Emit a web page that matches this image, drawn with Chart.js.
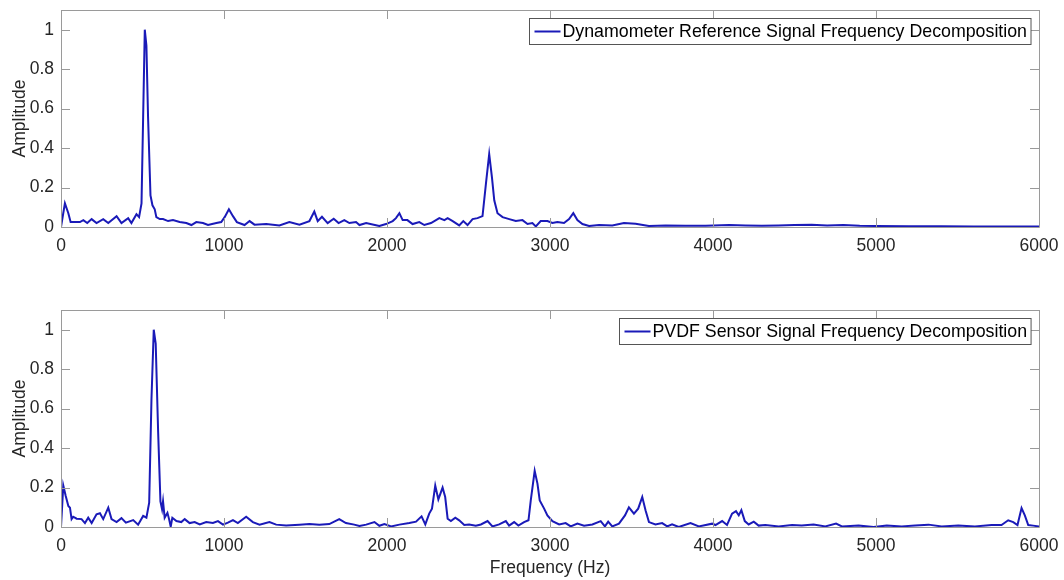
<!DOCTYPE html>
<html>
<head>
<meta charset="utf-8">
<script src="https://cdn.jsdelivr.net/npm/chart.js"></script>
<style>
  html, body { margin: 0; padding: 0; background: #fff; overflow: hidden; }
  #wrap { position: relative; width: 1064px; height: 580px; }
  .plot { position: absolute; left: 0; width: 1064px; }
</style>
</head>
<body>
<div id="wrap">
  <div class="plot" style="top:0;height:290px"><canvas id="topChart"></canvas></div>
  <div class="plot" style="top:300px;height:280px"><canvas id="bottomChart"></canvas></div>
</div>
<script>
// tick values shared by both subplots
const freqTicks = [0, 1000, 2000, 3000, 4000, 5000, 6000];
const ampTicks = [0, 0.2, 0.4, 0.6, 0.8, 1];

// top subplot: dynamometer spectrum (Hz, normalised amplitude)
const dynoFreq = [0, 24, 45, 59, 116, 137, 161, 188, 218, 259, 290, 341, 371, 412, 432, 463, 479, 494, 504, 514,
  524, 534, 549, 561, 575, 585, 606, 626, 657, 687, 728, 769, 800, 830, 871, 902, 953, 983, 1004, 1030,
  1055, 1079, 1126, 1157, 1187, 1259, 1340, 1401, 1463, 1524, 1554, 1575, 1601, 1636, 1673, 1703, 1738, 1769, 1810, 1831,
  1872, 1953, 1994, 2035, 2055, 2076, 2096, 2125, 2157, 2198, 2229, 2270, 2321, 2352, 2372, 2403, 2443, 2468, 2494, 2525,
  2555, 2586, 2607, 2627, 2644, 2658, 2678, 2709, 2750, 2790, 2831, 2862, 2892, 2913, 2943, 2984, 3015, 3045, 3086, 3117,
  3143, 3168, 3199, 3240, 3301, 3382, 3454, 3525, 3607, 3709, 3832, 3954, 4100, 4200, 4300, 4400, 4500, 4605, 4700, 4800,
  4900, 5000, 5200, 5400, 5600, 5800, 6000];
const dynoAmp = [0, 0.12, 0.07, 0.025, 0.025, 0.035, 0.02, 0.04, 0.02, 0.04, 0.02, 0.055, 0.02, 0.045, 0.02, 0.065, 0.05, 0.12, 0.56, 1.0,
  0.92, 0.56, 0.16, 0.11, 0.09, 0.05, 0.04, 0.04, 0.03, 0.035, 0.025, 0.02, 0.01, 0.025, 0.02, 0.01, 0.02, 0.025, 0.05, 0.09,
  0.055, 0.025, 0.01, 0.03, 0.012, 0.015, 0.008, 0.025, 0.012, 0.03, 0.078, 0.03, 0.052, 0.02, 0.042, 0.02, 0.035, 0.02, 0.025, 0.01,
  0.02, 0.005, 0.015, 0.03, 0.045, 0.07, 0.035, 0.035, 0.015, 0.025, 0.01, 0.02, 0.045, 0.035, 0.045, 0.03, 0.008, 0.03, 0.01, 0.04,
  0.045, 0.055, 0.22, 0.37, 0.25, 0.135, 0.07, 0.05, 0.04, 0.03, 0.035, 0.015, 0.02, 0.003, 0.03, 0.03, 0.02, 0.025, 0.02, 0.04,
  0.07, 0.035, 0.015, 0.005, 0.01, 0.008, 0.02, 0.016, 0.005, 0.008, 0.006, 0.006, 0.01, 0.008, 0.006, 0.008, 0.01, 0.012, 0.008, 0.01,
  0.006, 0.005, 0.004, 0.004, 0.003, 0.003, 0.003];

// bottom subplot: PVDF sensor spectrum
const pvdfFreq = [0, 14, 29, 45, 55, 65, 75, 96, 126, 147, 167, 188, 218, 239, 259, 290, 310, 341, 371, 398,
  443, 473, 504, 524, 541, 555, 569, 581, 596, 610, 620, 626, 636, 653, 663, 673, 683, 708, 738, 759,
  789, 820, 851, 891, 932, 963, 994, 1024, 1055, 1085, 1136, 1177, 1218, 1279, 1320, 1381, 1463, 1524, 1585, 1646,
  1707, 1748, 1799, 1831, 1872, 1923, 1953, 1984, 2025, 2076, 2137, 2178, 2212, 2235, 2259, 2276, 2296, 2315, 2341, 2357,
  2372, 2392, 2419, 2443, 2474, 2504, 2545, 2576, 2617, 2647, 2688, 2729, 2749, 2780, 2806, 2841, 2868, 2882, 2906, 2923,
  2937, 2964, 2984, 3015, 3056, 3096, 3127, 3168, 3209, 3260, 3311, 3337, 3357, 3382, 3423, 3460, 3484, 3515, 3541, 3566,
  3586, 3607, 3647, 3688, 3719, 3749, 3790, 3862, 3913, 3995, 4015, 4056, 4086, 4117, 4141, 4158, 4174, 4195, 4219, 4250,
  4280, 4321, 4403, 4485, 4544, 4617, 4689, 4755, 4791, 4893, 4985, 5066, 5158, 5240, 5322, 5403, 5505, 5607, 5709, 5770,
  5811, 5842, 5868, 5893, 5913, 5934, 5964, 6000];
const pvdfAmp = [0, 0.21, 0.157, 0.106, 0.098, 0.04, 0.052, 0.042, 0.04, 0.02, 0.047, 0.02, 0.064, 0.07, 0.04, 0.098, 0.04, 0.025, 0.045, 0.022,
  0.035, 0.012, 0.056, 0.047, 0.123, 0.646, 1.0, 0.93, 0.48, 0.13, 0.09, 0.13, 0.047, 0.072, 0.04, 0.002, 0.047, 0.03, 0.025, 0.04,
  0.02, 0.025, 0.013, 0.025, 0.02, 0.03, 0.012, 0.022, 0.035, 0.02, 0.052, 0.025, 0.012, 0.025, 0.012, 0.008, 0.012, 0.015, 0.012, 0.015,
  0.04, 0.02, 0.012, 0.005, 0.012, 0.025, 0.006, 0.015, 0.003, 0.012, 0.02, 0.027, 0.054, 0.013, 0.068, 0.093, 0.21, 0.14, 0.2, 0.152,
  0.042, 0.03, 0.047, 0.034, 0.01, 0.013, 0.007, 0.013, 0.03, 0.003, 0.013, 0.03, 0.007, 0.025, 0.007, 0.025, 0.034, 0.135, 0.285, 0.22,
  0.135, 0.093, 0.059, 0.03, 0.013, 0.02, 0.003, 0.017, 0.007, 0.013, 0.03, 0.003, 0.027, 0.003, 0.017, 0.059, 0.1, 0.068, 0.093, 0.152,
  0.085, 0.025, 0.013, 0.02, 0.003, 0.013, 0, 0.02, 0.003, 0.017, 0.01, 0.03, 0.01, 0.068, 0.08, 0.059, 0.085, 0.03, 0.013, 0.027,
  0.007, 0.01, 0.003, 0.01, 0.007, 0.013, 0.003, 0.017, 0.003, 0.007, 0, 0.007, 0.003, 0.008, 0.012, 0.003, 0.007, 0.003, 0.01, 0.01,
  0.034, 0.025, 0.01, 0.096, 0.059, 0.01, 0.007, 0.003];

const FONT = 'Liberation Sans, Arial, sans-serif';
const TEXT = '#262626';
const AXIS = '#9a9a9a';
const LINE = '#1a1ab8';
const TICK_LEN = 9;
const AXIS_FONT = 17.5;

// MATLAB style box, inward ticks and an inset legend
const boxPlugin = {
  id: 'matlabBox',
  afterDraw(chart) {
    const ctx = chart.ctx;
    const a = chart.chartArea;
    const xs = chart.scales.x, ys = chart.scales.y;
    ctx.save();
    ctx.strokeStyle = AXIS;
    ctx.lineWidth = 1;
    ctx.beginPath();
    ctx.rect(Math.round(a.left) + 0.5, Math.round(a.top) + 0.5, Math.round(a.right - a.left), Math.round(a.bottom - a.top));
    freqTicks.forEach(v => {
      const px = Math.round(xs.getPixelForValue(v)) + 0.5;
      ctx.moveTo(px, a.bottom); ctx.lineTo(px, a.bottom - TICK_LEN);
      ctx.moveTo(px, a.top); ctx.lineTo(px, a.top + TICK_LEN);
    });
    ampTicks.forEach(v => {
      const py = Math.round(ys.getPixelForValue(v)) + 0.5;
      ctx.moveTo(a.left, py); ctx.lineTo(a.left + TICK_LEN, py);
      ctx.moveTo(a.right, py); ctx.lineTo(a.right - TICK_LEN, py);
    });
    ctx.stroke();

    // legend
    const label = chart.data.datasets[0].label;
    ctx.font = '17.8px ' + FONT;
    const tw = ctx.measureText(label).width;
    const bw = 33 + tw + 4, bh = 26;
    const bx = Math.round(a.right - 8 - bw) + 0.5, by = Math.round(a.top + 8) + 0.5;
    ctx.fillStyle = '#fff';
    ctx.fillRect(bx, by, bw, bh);
    ctx.strokeStyle = '#555';
    ctx.strokeRect(bx, by, bw, bh);
    ctx.strokeStyle = LINE;
    ctx.lineWidth = 2;
    ctx.beginPath();
    ctx.moveTo(bx + 5, by + bh / 2); ctx.lineTo(bx + 31, by + bh / 2);
    ctx.stroke();
    ctx.fillStyle = '#000';
    ctx.textBaseline = 'middle';
    ctx.fillText(label, bx + 33, by + bh / 2 + 1);
    ctx.restore();
  }
};

function makeChart(id, label, freq, amp, showXTitle, xAxisHeight) {
  const points = freq.map((f, i) => ({ x: f, y: amp[i] }));
  return new Chart(document.getElementById(id), {
    type: 'line',
    data: {
      datasets: [{
        label: label,
        data: points,
        borderColor: LINE,
        borderWidth: 2,
        pointRadius: 0,
        tension: 0,
        fill: false
      }]
    },
    options: {
      responsive: true,
      maintainAspectRatio: false,
      animation: false,
      layout: { padding: { top: 10, right: 25, left: 0, bottom: 0 } },
      plugins: { legend: { display: false }, tooltip: { enabled: false } },
      scales: {
        x: {
          type: 'linear',
          min: 0,
          max: 6000,
          afterBuildTicks: s => { s.ticks = freqTicks.map(v => ({ value: v })); },
          afterFit: s => { s.height = xAxisHeight; s.paddingLeft = 0; s.paddingRight = 0; },
          grid: { display: false, drawTicks: false },
          border: { display: false },
          ticks: { color: TEXT, font: { family: FONT, size: AXIS_FONT }, padding: 9, maxRotation: 0,
            callback: v => String(v) },
          title: {
            display: showXTitle,
            text: 'Frequency (Hz)',
            color: TEXT,
            font: { family: FONT, size: AXIS_FONT },
            padding: { top: 0, bottom: 1 }
          }
        },
        y: {
          min: 0,
          max: 1.1,
          afterBuildTicks: s => { s.ticks = ampTicks.map(v => ({ value: v })); },
          afterFit: s => { s.width = 61; s.paddingTop = 0; s.paddingBottom = 0; },
          grid: { display: false, drawTicks: false },
          border: { display: false },
          ticks: { color: TEXT, font: { family: FONT, size: AXIS_FONT }, padding: 7,
            callback: v => String(Math.round(v * 10) / 10) },
          title: {
            display: true,
            text: 'Amplitude',
            color: TEXT,
            font: { family: FONT, size: AXIS_FONT },
            padding: { top: 10, bottom: 0 }
          }
        }
      }
    },
    plugins: [boxPlugin]
  });
}

makeChart('topChart', 'Dynamometer Reference Signal Frequency Decomposition', dynoFreq, dynoAmp, false, 63);
makeChart('bottomChart', 'PVDF Sensor Signal Frequency Decomposition', pvdfFreq, pvdfAmp, true, 53);
</script>
</body>
</html>
